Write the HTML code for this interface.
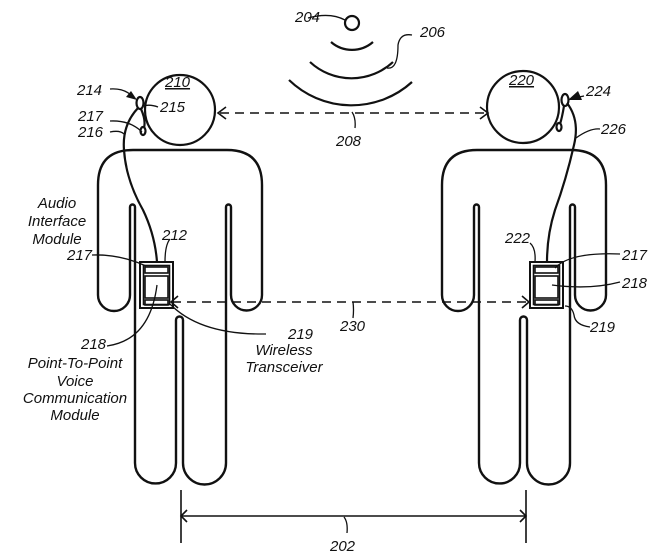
<!DOCTYPE html>
<html><head><meta charset="utf-8"><style>
html,body{margin:0;padding:0;background:#fff;}
svg{display:block;}
text{font-family:"Liberation Sans",sans-serif;font-style:italic;font-size:15px;fill:#111;}
</style></head><body>
<svg width="672" height="558" viewBox="0 0 672 558" xmlns="http://www.w3.org/2000/svg">
<defs>
<g id="body" fill="none" stroke="#111" stroke-width="2.4">
<path d="M98,185 Q98,150 133,150 L227,150 Q262,150 262,185 L262,295 A15.5,15.5 0 0 1 231,295 L231,207 A2.5,2.5 0 0 0 226,207 L226,463 A21.5,21.5 0 0 1 183,463 L183,320 A3.5,3.5 0 0 0 176,320 L176,463 A20.5,20.5 0 0 1 135,463 L135,207 A2.5,2.5 0 0 0 130,207 L130,295 A16,16 0 0 1 98,295 Z"/>
</g>
<g id="box" fill="none" stroke="#111" stroke-width="1.6">
<rect x="0" y="0" width="33" height="46" stroke-width="2"/>
<rect x="3.5" y="3.5" width="26" height="39"/>
<rect x="5" y="5" width="23" height="6"/>
<rect x="5" y="14" width="23" height="22"/>
<rect x="5" y="38" width="23" height="5"/>
</g>
</defs>
<g fill="none" stroke="#111" stroke-width="2.2">
<use href="#body"/>
<use href="#body" transform="translate(344,0)"/>
<circle cx="180" cy="110" r="35"/>
<circle cx="523" cy="107" r="36"/>
<use href="#box" transform="translate(140,262)"/>
<use href="#box" transform="translate(530,262)"/>
<circle cx="352" cy="23" r="7"/>
<path d="M331,42 A32,32 0 0 0 373,42"/>
<path d="M310,62 A61,61 0 0 0 393,62"/>
<path d="M289,80 A90,90 0 0 0 412,82"/>
<path d="M220,113 L486,113" stroke-dasharray="9,6" stroke-width="1.6"/>
<path d="M226,107 L218,113 L226,119 M480,107 L488,113 L480,119" stroke-width="1.6"/>
<path d="M172,302 L528,302" stroke-dasharray="9,6" stroke-width="1.6"/>
<path d="M178,296 L171,302 L178,308 M522,296 L529,302 L522,308" stroke-width="1.6"/>
<path d="M181,490 L181,543 M526,490 L526,543 M181,516 L526,516" stroke-width="1.6"/>
<path d="M187,510 L181,516 L187,522 M520,510 L526,516 L520,522" stroke-width="1.6"/>
<ellipse cx="140" cy="103" rx="3.5" ry="6"/>
<path d="M141,109 Q146,120 144,128"/>
<ellipse cx="143" cy="131" rx="2.5" ry="4"/>
<path d="M138,108 Q122,125 124,150 Q126,180 143,210 Q155,235 157,262"/>
<ellipse cx="565" cy="100" rx="3.5" ry="6"/>
<path d="M564,106 Q562,118 560,124"/>
<ellipse cx="559" cy="127" rx="2.5" ry="4"/>
<path d="M567,103 Q580,120 574,145 Q566,180 555,210 Q547,235 547,262"/>
</g>
<g fill="none" stroke="#111" stroke-width="1.3">
<path d="M308,18 Q330,12 345,20"/>
<path d="M412,35 Q400,33 398,45 Q398,70 387,68"/>
<path d="M352,112 Q356,118 355,128"/>
<path d="M110,89 Q125,88 133,97"/>
<path d="M110,121 Q130,120 142,132"/>
<path d="M110,132 Q120,130 124,134"/>
<path d="M158,107 Q150,104 143,106"/>
<path d="M170,239 Q165,245 165,262"/>
<path d="M92,255 Q120,254 146,266"/>
<path d="M107,346 Q150,340 157,285"/>
<path d="M266,334 Q200,335 170,304"/>
<path d="M353,302 Q354,310 353,318"/>
<path d="M344,517 Q348,522 347,533"/>
<path d="M584,96 L574,98"/>
<path d="M600,129 Q590,128 576,138"/>
<path d="M530,243 Q536,248 535,262"/>
<path d="M620,254 Q570,252 555,268"/>
<path d="M620,282 Q590,290 552,285"/>
<path d="M590,327 Q575,325 574,315 Q572,306 565,306"/>
</g>
<path d="M137,100 L126,97 L131,91 Z" fill="#111"/>
<path d="M568,100 L578,91 L582,100 Z" fill="#111"/>
<text x="295" y="22">204</text>
<text x="420" y="37">206</text>
<text x="336" y="146">208</text>
<text x="165" y="87" style="text-decoration:underline">210</text>
<text x="509" y="85" style="text-decoration:underline">220</text>
<text x="77" y="95">214</text>
<text x="78" y="121">217</text>
<text x="78" y="137">216</text>
<text x="160" y="112">215</text>
<text x="586" y="96">224</text>
<text x="601" y="134">226</text>
<text x="57" y="208" text-anchor="middle">Audio</text>
<text x="57" y="226" text-anchor="middle">Interface</text>
<text x="57" y="244" text-anchor="middle">Module</text>
<text x="162" y="240">212</text>
<text x="67" y="260">217</text>
<text x="81" y="349">218</text>
<text x="75" y="368" text-anchor="middle">Point-To-Point</text>
<text x="75" y="386" text-anchor="middle">Voice</text>
<text x="75" y="403" text-anchor="middle">Communication</text>
<text x="75" y="420" text-anchor="middle">Module</text>
<text x="288" y="339">219</text>
<text x="284" y="355" text-anchor="middle">Wireless</text>
<text x="284" y="372" text-anchor="middle">Transceiver</text>
<text x="340" y="331">230</text>
<text x="505" y="243">222</text>
<text x="622" y="260">217</text>
<text x="622" y="288">218</text>
<text x="590" y="332">219</text>
<text x="330" y="551">202</text>
</svg>
</body></html>
